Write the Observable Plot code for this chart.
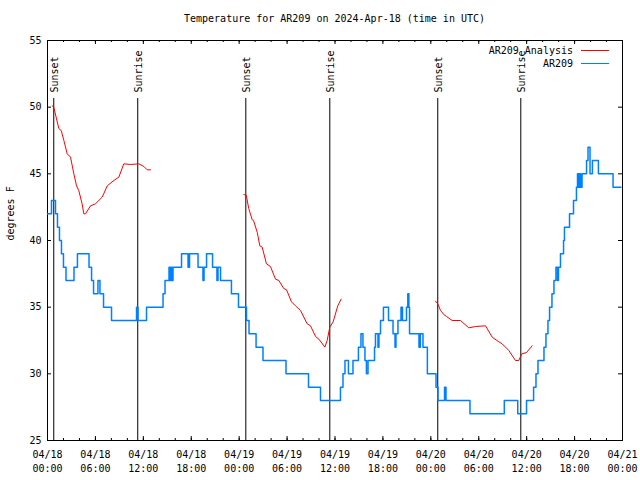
<!DOCTYPE html>
<html>
<head>
<meta charset="utf-8">
<script src="https://cdn.jsdelivr.net/npm/d3@7"></script>
<script src="https://cdn.jsdelivr.net/npm/@observablehq/plot@0.6"></script>
<style>
  body { margin: 0; background: #fff; }
  #wrap { position: relative; width: 640px; height: 480px; font-family: "DejaVu Sans Mono", monospace; font-size: 10px; color: #000; background: #fff; }
  #title { position: absolute; left: 47px; top: 14px; width: 575px; text-align: center; line-height: 10px; white-space: pre; }
  #chart { position: absolute; left: 0; top: 30px; }
  #legend { position: absolute; right: 31px; top: 44px; }
  .row { display: flex; align-items: center; justify-content: flex-end; height: 13px; }
  .sw { width: 28px; margin-left: 8px; height: 0; }
</style>
</head>
<body>
<div id="wrap">
  <div id="title"></div>
  <div id="chart"></div>
  <div id="legend"></div>
</div>
<script>
const titleText = "Temperature for AR209 on 2024-Apr-18 (time in UTC)";
const yLabel = "degrees F";
const seriesNames = ["AR209 Analysis", "AR209"];
const seriesColors = ["#ff0000", "#0080ff"];
const xDomain = ["2024-04-18 00:00", "2024-04-21 00:00"];
const yDomain = [25, 55];
const yTicks = [25, 30, 35, 40, 45, 50, 55];
const tickFormatSpec = "%m/%d\n%H:%M";

const eventLabels = ["Sunset", "Sunrise", "Sunset", "Sunrise", "Sunset", "Sunrise"];
const eventTimes = ["2024-04-18 00:47", "2024-04-18 11:18", "2024-04-19 00:50", "2024-04-19 11:21", "2024-04-20 00:52", "2024-04-20 11:16"];

// AR209 observations (change points, step)
const obsTime = [
 "2024-04-18 00:00","2024-04-18 00:30","2024-04-18 01:00","2024-04-18 01:15","2024-04-18 01:30","2024-04-18 01:45",
 "2024-04-18 02:00","2024-04-18 02:19","2024-04-18 03:19","2024-04-18 03:45","2024-04-18 05:12","2024-04-18 05:31",
 "2024-04-18 05:46","2024-04-18 06:19","2024-04-18 06:34","2024-04-18 07:01","2024-04-18 08:01","2024-04-18 11:09",
 "2024-04-18 11:20","2024-04-18 12:24","2024-04-18 14:28","2024-04-18 14:43","2024-04-18 15:13","2024-04-18 15:20",
 "2024-04-18 15:28","2024-04-18 15:35","2024-04-18 15:43","2024-04-18 16:47","2024-04-18 17:36","2024-04-18 17:47",
 "2024-04-18 18:51","2024-04-18 19:28","2024-04-18 19:36","2024-04-18 19:55","2024-04-18 20:40","2024-04-18 21:13",
 "2024-04-18 21:21","2024-04-18 21:40","2024-04-18 23:02","2024-04-18 23:55","2024-04-19 00:55","2024-04-19 01:14",
 "2024-04-19 02:07","2024-04-19 02:59","2024-04-19 05:52","2024-04-19 08:41","2024-04-19 10:11","2024-04-19 12:41",
 "2024-04-19 13:00","2024-04-19 13:15","2024-04-19 13:41","2024-04-19 14:15","2024-04-19 14:56","2024-04-19 15:15",
 "2024-04-19 15:30","2024-04-19 15:45","2024-04-19 15:56","2024-04-19 16:08","2024-04-19 16:57","2024-04-19 17:04",
 "2024-04-19 17:23","2024-04-19 17:30","2024-04-19 17:42","2024-04-19 18:04","2024-04-19 18:42","2024-04-19 19:16",
 "2024-04-19 19:31","2024-04-19 19:38","2024-04-19 19:53","2024-04-19 20:16","2024-04-19 20:27","2024-04-19 20:57",
 "2024-04-19 21:07","2024-04-19 21:15","2024-04-19 21:20","2024-04-19 22:31","2024-04-19 22:41","2024-04-19 23:01",
 "2024-04-19 23:34","2024-04-20 00:39","2024-04-20 00:54","2024-04-20 01:43","2024-04-20 01:54","2024-04-20 04:54",
 "2024-04-20 09:12","2024-04-20 10:53","2024-04-20 11:59","2024-04-20 12:52","2024-04-20 13:10","2024-04-20 13:25",
 "2024-04-20 14:10","2024-04-20 14:25","2024-04-20 14:40","2024-04-20 14:52","2024-04-20 15:10","2024-04-20 15:25",
 "2024-04-20 15:40","2024-04-20 15:52","2024-04-20 15:59","2024-04-20 16:14","2024-04-20 16:37","2024-04-20 16:44",
 "2024-04-20 17:22","2024-04-20 17:52","2024-04-20 18:14","2024-04-20 18:22","2024-04-20 18:30","2024-04-20 18:37",
 "2024-04-20 18:45","2024-04-20 18:56","2024-04-20 19:30","2024-04-20 19:41","2024-04-20 19:56","2024-04-20 20:14",
 "2024-04-20 20:59","2024-04-20 22:49","2024-04-20 23:49"
];
const obsTemp = [
 42,43,42,41,40,39,
 38,37,38,39,38,37,
 36,37,36,35,34,35,
 34,35,36,37,38,37,
 38,37,38,39,38,39,
 38,37,38,39,38,37,
 38,37,36,35,34,33,
 32,31,30,29,28,29,
 30,31,30,31,32,33,
 32,31,30,31,32,33,
 32,33,34,35,34,33,
 32,33,34,35,34,35,
 36,35,33,32,33,32,
 30,29,28,29,28,27,
 28,27,28,29,30,31,
 32,33,34,35,36,37,
 38,37,38,39,40,41,
 42,43,44,45,44,45,
 44,45,46,47,45,46,
 45,44,44
];

// AR209 Analysis (null separates the three nightly runs)
const anaTime = [
 "2024-04-18 00:35","2024-04-18 00:47","2024-04-18 01:25","2024-04-18 01:43","2024-04-18 02:03","2024-04-18 02:28",
 "2024-04-18 02:53","2024-04-18 03:18","2024-04-18 03:38","2024-04-18 03:55","2024-04-18 04:20","2024-04-18 04:33",
 "2024-04-18 04:46","2024-04-18 05:23","2024-04-18 06:00","2024-04-18 06:51","2024-04-18 07:29","2024-04-18 08:18",
 "2024-04-18 08:56","2024-04-18 09:33","2024-04-18 10:24","2024-04-18 11:26","2024-04-18 12:04","2024-04-18 12:29",
 "2024-04-18 12:54","2024-04-18 18:00",
 "2024-04-19 00:35","2024-04-19 00:53","2024-04-19 01:12","2024-04-19 01:38","2024-04-19 01:48","2024-04-19 02:16",
 "2024-04-19 02:35","2024-04-19 02:53","2024-04-19 03:25","2024-04-19 03:55","2024-04-19 04:33","2024-04-19 04:58",
 "2024-04-19 05:35","2024-04-19 05:56","2024-04-19 06:33","2024-04-19 07:03","2024-04-19 07:41","2024-04-19 08:31",
 "2024-04-19 08:56","2024-04-19 09:34","2024-04-19 09:59","2024-04-19 10:44","2024-04-19 11:01","2024-04-19 11:21",
 "2024-04-19 11:46","2024-04-19 12:21","2024-04-19 12:46","2024-04-19 18:00",
 "2024-04-20 00:35","2024-04-20 00:52","2024-04-20 01:13","2024-04-20 01:37","2024-04-20 01:58","2024-04-20 02:40",
 "2024-04-20 03:43","2024-04-20 04:45","2024-04-20 05:36","2024-04-20 06:51","2024-04-20 07:41","2024-04-20 08:31",
 "2024-04-20 08:56","2024-04-20 09:46","2024-04-20 10:36","2024-04-20 11:00","2024-04-20 11:24","2024-04-20 11:59",
 "2024-04-20 12:41"
];
const anaTemp = [
 50.1,50.0,48.4,48.25,47.5,46.5,
 46.25,45.0,44.1,43.75,42.75,42.0,
 42.0,42.6,42.75,43.25,44.1,44.5,
 44.75,45.75,45.7,45.75,45.55,45.3,
 45.3,null,
 43.45,43.4,42.4,41.55,41.5,40.6,
 39.6,39.5,38.25,38.05,37.1,37.0,
 36.4,36.3,35.4,35.1,34.75,33.75,
 33.6,32.8,32.6,32.0,32.5,33.5,
 33.9,35.1,35.6,null,
 35.45,35.25,34.75,34.45,34.3,34.0,
 34.0,33.45,33.55,33.6,32.75,32.4,
 32.25,31.75,31.0,31.0,31.5,31.6,
 32.1
];

const parse = d3.utcParse("%Y-%m-%d %H:%M");
const obs = obsTime.map((t, i) => ({time: parse(t), temp: obsTemp[i]}));
const ana = anaTime.map((t, i) => ({time: parse(t), temp: anaTemp[i]}));
const events = eventTimes.map((t, i) => ({time: parse(t), label: eventLabels[i]}));
const x0 = parse(xDomain[0]), x1 = parse(xDomain[1]);
const minorTicks = d3.utcHour.every(2).range(x0, d3.utcMinute.offset(x1, 1));
const majorTicks = d3.utcHour.every(6).range(x0, d3.utcMinute.offset(x1, 1));

const W = 640, H = 450, mL = 47, mR = 18, mT = 10, mB = 40;
const fw = W - mL - mR, fh = H - mT - mB;

const chart = Plot.plot({
  width: W, height: H,
  marginLeft: mL, marginRight: mR, marginTop: mT, marginBottom: mB,
  style: {fontFamily: "'DejaVu Sans Mono', monospace", fontSize: "10px", background: "white", color: "black", overflow: "visible"},
  x: {type: "utc", domain: [x0, x1]},
  y: {domain: yDomain},
  marks: [
    Plot.frame({stroke: "black"}),
    Plot.ruleX(minorTicks, {x: d => d, insetTop: fh - 2, stroke: "black"}),
    Plot.ruleX(minorTicks, {x: d => d, insetBottom: fh - 2, stroke: "black"}),
    Plot.ruleX(majorTicks, {x: d => d, insetTop: fh - 4, stroke: "black"}),
    Plot.ruleX(majorTicks, {x: d => d, insetBottom: fh - 4, stroke: "black"}),
    Plot.ruleY(yTicks, {y: d => d, insetRight: fw - 4, stroke: "black"}),
    Plot.ruleY(yTicks, {y: d => d, insetLeft: fw - 4, stroke: "black"}),
    Plot.axisX({ticks: majorTicks, tickSize: 0, tickPadding: 8, lineHeight: 1.4, tickFormat: d3.utcFormat(tickFormatSpec), label: null}),
    Plot.axisY({ticks: yTicks, tickSize: 0, tickPadding: 6, label: null}),
    Plot.text([yLabel], {frameAnchor: "left", rotate: -90, dx: -37, text: d => d}),
    Plot.ruleX(events, {x: "time", insetTop: 58, stroke: "black"}),
    Plot.text(events, {x: "time", frameAnchor: "top", dy: 52, dx: -3, rotate: -90, textAnchor: "start", text: "label"}),
    Plot.line(obs, {x: "time", y: "temp", curve: "step-after", stroke: seriesColors[1], strokeWidth: 1.5}),
    Plot.line(ana, {x: "time", y: "temp", stroke: seriesColors[0], strokeWidth: 1})
  ]
});
document.getElementById("chart").appendChild(chart);
document.getElementById("title").textContent = titleText;

const legend = document.getElementById("legend");
seriesNames.forEach((name, i) => {
  const row = document.createElement("div");
  row.className = "row";
  const label = document.createElement("span");
  label.textContent = name;
  const sw = document.createElement("div");
  sw.className = "sw";
  sw.style.borderTop = `1px solid ${seriesColors[i]}`;
  row.appendChild(label);
  row.appendChild(sw);
  legend.appendChild(row);
});
</script>
</body>
</html>
